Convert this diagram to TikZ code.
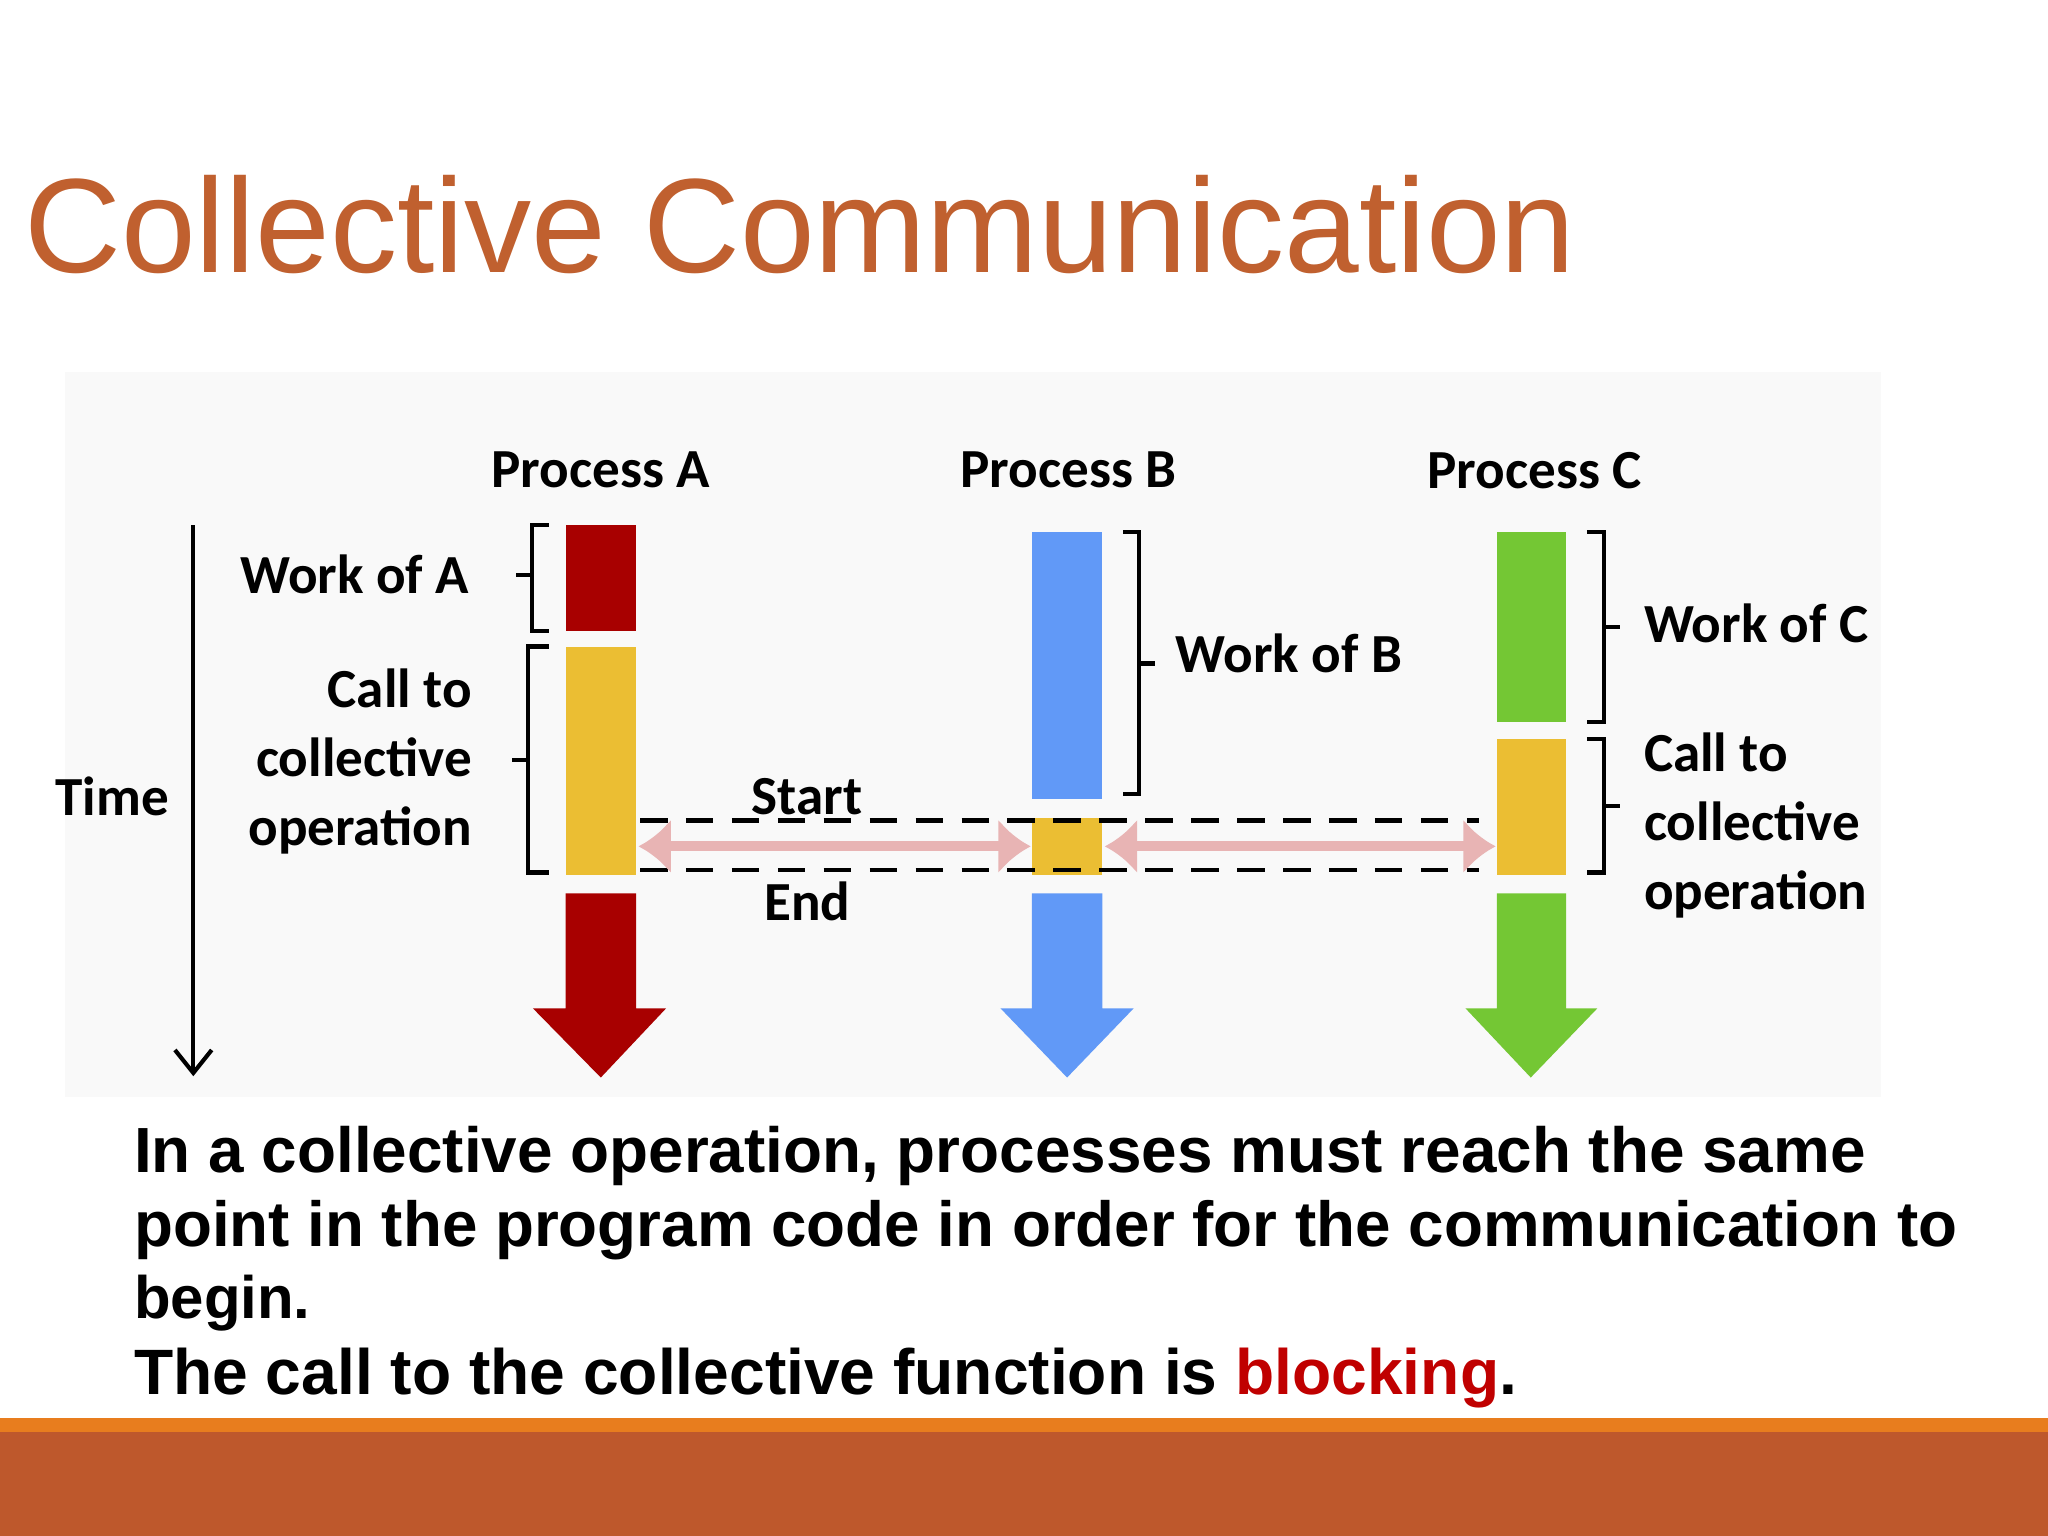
\documentclass[tikz,border=0pt]{standalone}
\usepackage{fontspec}
\setmainfont{Liberation Sans}
\newfontfamily\dfont{Carlito}
\usetikzlibrary{arrows.meta}
\definecolor{titlec}{HTML}{C0602F}
\definecolor{redA}{HTML}{A80000}
\definecolor{blueB}{HTML}{6199F7}
\definecolor{greenC}{HTML}{74C734}
\definecolor{yel}{HTML}{EBBE33}
\definecolor{pinkk}{HTML}{E8B4B4}
\definecolor{orng}{HTML}{E87D1E}
\definecolor{brwn}{HTML}{BE582C}
\definecolor{blk}{HTML}{C00000}
\tikzset{
 lab/.style={font=\dfont\bfseries\fontsize{12pt}{14pt}\selectfont, inner sep=0pt},
 body/.style={anchor=west, inner sep=0pt, font=\bfseries},
 brk/.style={line width=0.9pt},
 dsh/.style={dashed, line width=1pt, dash pattern=on 6pt off 4pt},
 pinkarr/.style={pinkk, line width=2.2pt, {Latex[length=7pt,width=12pt]}-{Latex[length=7pt,width=12pt]}}
}
\begin{document}
\begin{tikzpicture}[x=0.01cm,y=-0.01cm]
\useasboundingbox (0,0) rectangle (1568,1176);
\fill[white] (0,0) rectangle (1568,1176);
\fill[gray!5] (50,285) rectangle (1440,840);
\node[anchor=west, inner sep=0pt, text=titlec] (title) at (18,172) {\resizebox{11.87cm}{!}{Collective Communication}};
% process labels
\node[lab] (pa) at (460,360) {Process A};
\node[lab] (pb) at (818,360) {Process B};
\node[lab] (pc) at (1175,360) {Process C};
% time axis
\coordinate (t0) at (148,402); \coordinate (t1) at (148,824);
\draw[line width=0.9pt, -{Straight Barb[length=5pt,width=8pt]}] (t0) -- (t1);
\node[lab] (time) at (86,610) {Time};
% column A
\fill[redA] (433,402) rectangle (487,483);
\fill[yel] (433,495) rectangle (487,670);
\fill[redA] (433,684) -- (487,684) -- (487,772) -- (510,772) -- (460,825) -- (408,772) -- (433,772) -- cycle;
% column B
\fill[blueB] (790,407) rectangle (844,612);
\fill[yel] (790,626) rectangle (844,670);
\fill[blueB] (790,684) -- (844,684) -- (844,772) -- (868,772) -- (817,825) -- (766,772) -- (790,772) -- cycle;
% column C
\fill[greenC] (1146,407) rectangle (1199,553);
\fill[yel] (1146,566) rectangle (1199,670);
\fill[greenC] (1146,684) -- (1199,684) -- (1199,772) -- (1223,772) -- (1172,825) -- (1122,772) -- (1146,772) -- cycle;
% brackets
\draw[brk] (420,402) -- (407,402) -- (407,483) -- (420,483); \draw[brk] (407,440) -- (395,440);
\draw[brk] (420,495) -- (404,495) -- (404,668) -- (420,668); \draw[brk] (404,582) -- (392,582);
\draw[brk] (860,407) -- (872,407) -- (872,608) -- (860,608); \draw[brk] (872,508) -- (884,508);
\draw[brk] (1215,407) -- (1228,407) -- (1228,553) -- (1215,553); \draw[brk] (1228,480) -- (1240,480);
\draw[brk] (1215,566) -- (1228,566) -- (1228,668) -- (1215,668); \draw[brk] (1228,617) -- (1240,617);
% labels
\node[lab, anchor=east] (wa) at (360,440) {Work of A};
\node[lab, anchor=east, align=right] (ca) at (362,583) {Call to\\[1pt]collective\\[1pt]operation};
\node[lab] (wb) at (987,500) {Work of B};
\node[lab, anchor=west] (wc) at (1258,477) {Work of C};
\node[lab, anchor=west, align=left] (cc) at (1258,632) {Call to\\[1pt]collective\\[1pt]operation};
% dashed lines
\coordinate (d1a) at (490,628); \coordinate (d1b) at (1132,628);
\coordinate (d2a) at (490,666); \coordinate (d2b) at (1132,666);
\draw[dsh] (d1a) -- (d1b);
\draw[dsh] (d2a) -- (d2b);
\node[lab] (st) at (618,610) {Start};
\node[lab] (en) at (618,690) {End};
% pink arrows
\coordinate (p1) at (489,648); \coordinate (p2) at (789,648);
\coordinate (p3) at (846,648); \coordinate (p4) at (1145,648);
\draw[pinkarr] (p1) -- (p2);
\draw[pinkarr] (p3) -- (p4);
% body text
\node[body] (l1) at (102,885) {\resizebox{13.25cm}{!}{In a collective operation, processes must reach the same}};
\node[body] (l2) at (102,942) {\resizebox{13.95cm}{!}{point in the program code in order for the communication to}};
\node[body] (l3) at (102,998) {\resizebox{1.35cm}{!}{begin.}};
\node[body] (l4) at (102,1055) {\resizebox{10.58cm}{!}{The call to the collective function is \textcolor{blk}{blocking}.}};
% footer
\fill[orng] (0,1086) rectangle (1568,1096);
\fill[brwn] (0,1096) rectangle (1568,1176);
\end{tikzpicture}
\end{document}
